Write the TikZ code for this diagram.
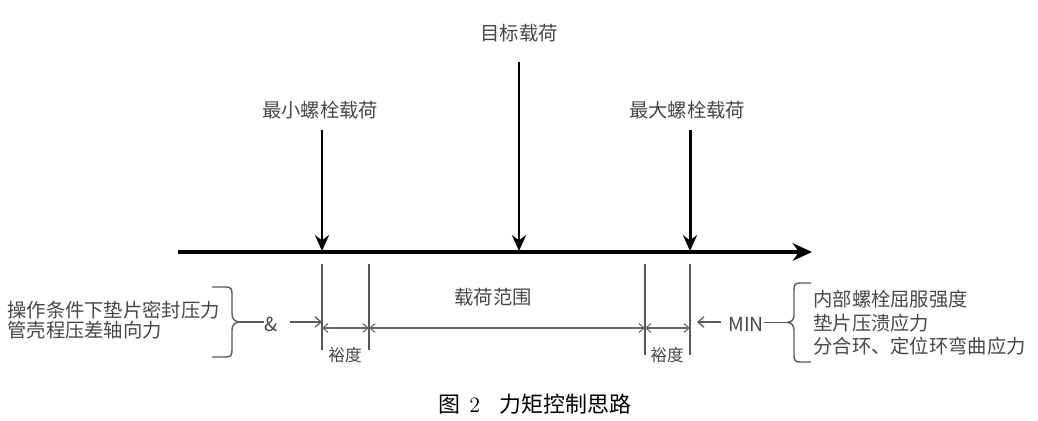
\documentclass[tikz,border=0pt]{standalone}
\usepackage{fontspec}
\newfontfamily\cjk{Noto Sans CJK SC}
\usetikzlibrary{arrows.meta,positioning}

\tikzset{
  lbl/.style={text=black!72, font=\cjk\fontsize{11}{11}\selectfont, inner sep=0pt},
  small/.style={text=black!72, font=\cjk\fontsize{9.5}{10}\selectfont, inner sep=0pt},
  load/.style={line width=1.7pt, -{Stealth[length=9pt,width=8pt]}},
  guide/.style={draw=black!65, line width=0.7pt},
  dim/.style={draw=black!60, line width=0.6pt, {Straight Barb[length=3pt,width=5pt]}-{Straight Barb[length=3pt,width=5pt]}},
  pointer/.style={draw=black!65, line width=0.7pt, -{Straight Barb[length=3.5pt,width=6pt]}},
  curly/.style={draw=black!65, line width=0.8pt, line join=round},
}

\begin{document}
\begin{tikzpicture}[x=0.02cm, y=-0.02cm]
    \useasboundingbox (0,0) rectangle (1038,421);
    %% Axis
    \coordinate (axL) at (178,252);
    \coordinate (axR) at (812,252);
    \draw[line width=2.2pt, -{Stealth[length=11pt,width=10pt]}] (axL) -- (axR);
    %% Loads
    \node[lbl] (tgt) at (519,33) {目标载荷};
    \node[lbl] (minB) at (320,110) {最小螺栓载荷};
    \node[lbl] (maxB) at (687,110) {最大螺栓载荷};
    \coordinate (tgtA) at (519,62);
    \coordinate (tgtB) at (519,251);
    \coordinate (minA) at (322,130);
    \coordinate (minC) at (322,251);
    \coordinate (maxA) at (690,130);
    \coordinate (maxC) at (690,251);
    \draw[load] (tgtA) -- (tgtB);
    \draw[load] (minA) -- (minC);
    \draw[load] (maxA) -- (maxC);
    %% Guides
    \coordinate (g1t) at (322,264);  \coordinate (g1b) at (322,350);
    \coordinate (g2t) at (369,264);  \coordinate (g2b) at (369,350);
    \coordinate (g3t) at (645,264);  \coordinate (g3b) at (645,355);
    \coordinate (g4t) at (690,264);  \coordinate (g4b) at (690,355);
    \draw[guide] (g1t) -- (g1b);
    \draw[guide] (g2t) -- (g2b);
    \draw[guide] (g3t) -- (g3b);
    \draw[guide] (g4t) -- (g4b);
    %% Ranges
    \coordinate (d1) at (322,328);
    \coordinate (d2) at (369,328);
    \coordinate (d3) at (645,328);
    \coordinate (d4) at (690,328);
    \draw[dim] (d1) -- (d2);
    \draw[dim] (d2) -- (d3);
    \draw[dim] (d3) -- (d4);
    \node[lbl] (range) at (493,297) {载荷范围};
    \node[small] (mLeft) at (345,355) {裕度};
    \node[small] (mRight) at (667,355) {裕度};
    %% Left side
    \node[lbl, anchor=west, align=left] (cond) at (7,320) {操作条件下垫片密封压力\\管壳程压差轴向力};
    \coordinate (bl1) at (212,287);
    \coordinate (bl2) at (212,357);
    \coordinate (blTip) at (240,322);
    \draw[curly] (bl1) -- (226,287) .. controls (231,287) and (232,289) .. (232,294)
        -- (232,314) .. controls (232,319) and (235,322) .. (blTip)
        .. controls (235,322) and (232,325) .. (232,330)
        -- (232,350) .. controls (232,355) and (231,357) .. (226,357) -- (bl2);
    \node[lbl] (amp) at (271,324) {\&};
    \draw[guide] (blTip) -- (amp.west |- blTip);
    \coordinate (ampE) at (290,322);
    \draw[pointer] (ampE) -- (d1 |- ampE);
    %% Right side
    \node[lbl, anchor=west, align=left, font=\cjk\fontsize{11}{13.3}\selectfont] (lim) at (813,323) {内部螺栓屈服强度\\垫片压溃应力\\分合环、定位环弯曲应力};
    \coordinate (br1) at (811,283);
    \coordinate (br2) at (811,362);
    \coordinate (brTip) at (787,322.5);
    \draw[curly] (br1) -- (800,283) .. controls (795,283) and (794,285) .. (794,290)
        -- (794,315) .. controls (794,320) and (791,322.5) .. (brTip)
        .. controls (791,322.5) and (794,325) .. (794,330)
        -- (794,355) .. controls (794,360) and (795,362) .. (800,362) -- (br2);
    \node[lbl] (minN) at (746,324) {MIN};
    \draw[guide] (minN.east |- brTip) -- (brTip);
    \coordinate (minW) at (721,322);
    \draw[pointer] (minW) -- (697,322);
    %% Caption
    \node[text=black, font=\fontsize{12.5}{13}\selectfont, inner sep=0pt] (cap) at (535,404) {{\cjk 图}\hspace{5pt}2\hspace{11pt}{\cjk 力矩控制思路}};
\end{tikzpicture}
\end{document}
